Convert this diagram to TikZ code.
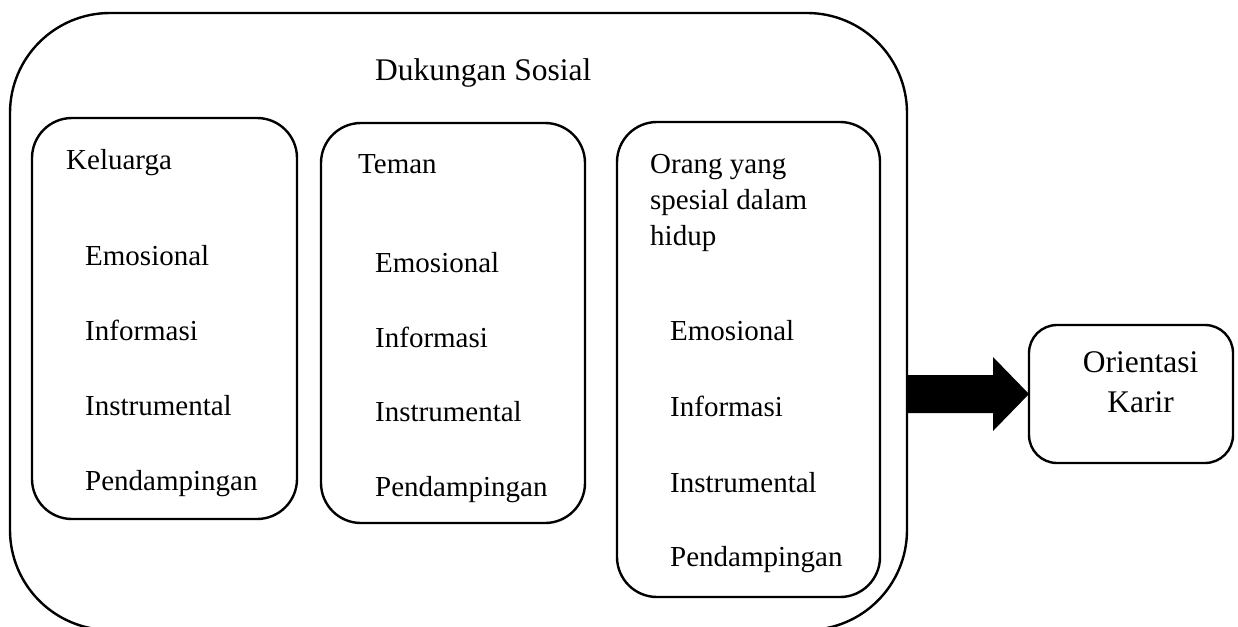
\documentclass[tikz,border=0pt]{standalone}
\usepackage{fontspec}
\setmainfont{Liberation Serif}
\usetikzlibrary{calc}
\begin{document}
\begin{tikzpicture}[x=1pt,y=-1pt,
  box/.style={draw,line width=2.4pt,rounded corners=40pt,inner sep=0pt,outer sep=0pt},
  lbl/.style={anchor=base west,inner sep=0pt,font=\fontsize{29}{36}\selectfont},
  big/.style={font=\fontsize{31.5}{38}\selectfont}]
\useasboundingbox (0,0) rectangle (1238,626);
% boxes
\node[box,rounded corners=100pt,minimum width=897pt,minimum height=617pt] (outer) at (458.5,321.5) {};
\node[box,minimum width=265pt,minimum height=401pt] (kel) at (164.5,318.5) {};
\node[box,minimum width=264pt,minimum height=400pt] (tem) at (453,323) {};
\node[box,minimum width=263pt,minimum height=475pt] (ora) at (748.5,359.5) {};
\node[box,rounded corners=28pt,minimum width=204pt,minimum height=138pt] (orient) at (1131,394) {};
% arrow
\path (outer.east |- orient.west) coordinate (as);
\fill (as) ++(0,-19) -- ++(86,0) -- ++(0,-18) -- (orient.west) -- ($(as)+(86,37)$) -- ++(0,-18) -- ++(-86,0) -- cycle;
% texts
\node[lbl,big] (t0) at (375,81) {Dukungan Sosial};
\node[lbl] (k0) at (66,169) {Keluarga};
\node[lbl] (k1) at (85,265) {Emosional};
\node[lbl] (k2) at (85,340) {Informasi};
\node[lbl] (k3) at (85,415) {Instrumental};
\node[lbl] (k4) at (85,490) {Pendampingan};
\node[lbl] (m0) at (358,173) {Teman};
\node[lbl] (m1) at (375,272) {Emosional};
\node[lbl] (m2) at (375,347) {Informasi};
\node[lbl] (m3) at (375,421) {Instrumental};
\node[lbl] (m4) at (375,496) {Pendampingan};
\node[lbl] (o0) at (650,173) {Orang yang};
\node[lbl] (o1) at (650,209) {spesial dalam};
\node[lbl] (o2) at (650,245) {hidup};
\node[lbl] (o3) at (670,340) {Emosional};
\node[lbl] (o4) at (670,416) {Informasi};
\node[lbl] (o5) at (670,492) {Instrumental};
\node[lbl] (o6) at (670,566) {Pendampingan};
\node[lbl,big,anchor=base] (r0) at (1140.5,372) {Orientasi};
\node[lbl,big,anchor=base] (r1) at (1140.5,412) {Karir};
\end{tikzpicture}
\end{document}
